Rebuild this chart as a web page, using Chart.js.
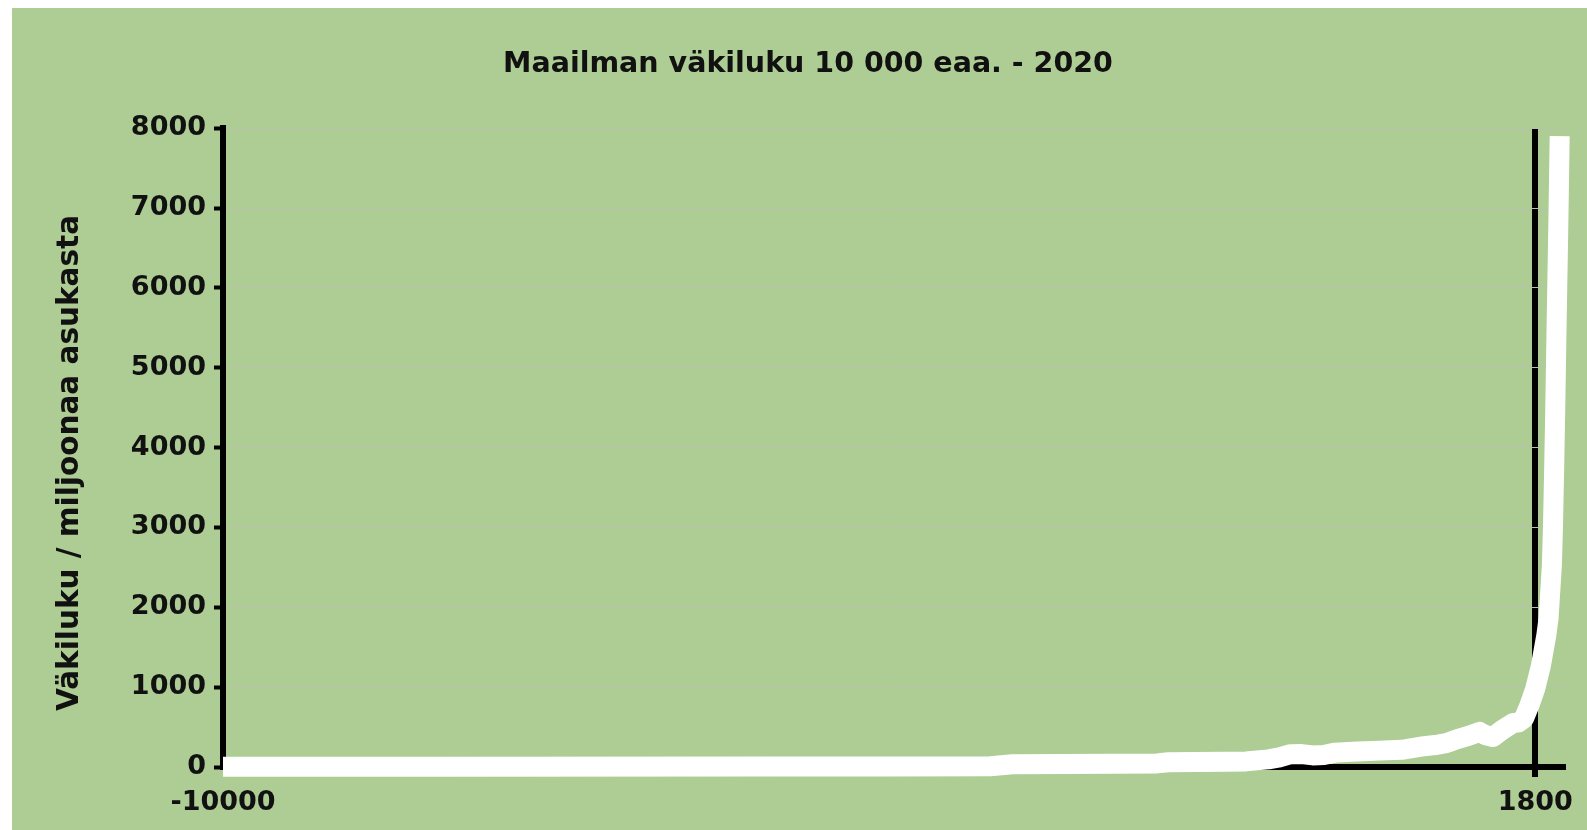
<!DOCTYPE html>
<html lang="fi">
<head>
    <meta charset="UTF-8">
    <title>Maailman väkiluku</title>
    <script src="https://cdn.jsdelivr.net/npm/chart.js"></script>
    <style>
        html, body { margin: 0; background: #fff; }
        #box { position: absolute; left: 12px; top: 8px; width: 1575px; height: 822px; background: #aecd94; }
    </style>
</head>
<body>
    <div id="box"><canvas id="myChart"></canvas></div>
    <script>
        // Vuodet ja väkiluku (miljoonaa), luettu kuvasta
        const years = [-10000, -8000, -5000, -4000, -3100, -2900, -2000, -1600, -1500, -1000, -800,
            -600, -500, -400, -300, -200, -100, 1, 200, 400, 600, 800, 900, 1000, 1100, 1200,
            1300, 1350, 1420, 1500, 1600, 1650, 1700, 1750, 1800, 1850, 1900, 1920, 1940, 1950,
            1960, 1970, 1980, 1990, 2000, 2010, 2020];
        const population = [2, 3, 5, 7, 10, 35, 40, 45, 60, 65, 70,
            95, 120, 160, 162, 145, 150, 180, 195, 205, 215, 260, 275, 300, 350, 390,
            440, 400, 375, 460, 550, 560, 610, 780, 980, 1260, 1650, 1860, 2300, 2525,
            3018, 3700, 4450, 5330, 6140, 6960, 7900];
        const xTicks = [-10000, 1800];
        const markYear = 1800;

        const font = (size) => ({ family: 'DejaVu Sans', size: size, weight: 'bold' });

        const ctx = document.getElementById('myChart').getContext('2d');
        new Chart(ctx, {
            type: 'line',
            data: {
                datasets: [{
                    data: years.map((y, i) => ({ x: y, y: population[i] })),
                    borderColor: '#ffffff',
                    borderWidth: 20,
                    borderJoinStyle: 'round',
                    pointRadius: 0,
                    tension: 0,
                    clip: 14
                }]
            },
            options: {
                responsive: true,
                maintainAspectRatio: false,
                animation: false,
                layout: { padding: { left: 41, right: 24, top: 0, bottom: 0 } },
                plugins: {
                    legend: { display: false },
                    tooltip: { enabled: false },
                    title: {
                        display: true,
                        text: 'Maailman väkiluku 10 000 eaa. - 2020',
                        color: '#111',
                        font: font(28.5),
                        padding: { top: 39, bottom: 47 }
                    }
                },
                scales: {
                    x: {
                        type: 'linear',
                        min: -10000,
                        max: 2050,
                        afterBuildTicks: s => { s.ticks = xTicks.map(v => ({ value: v })); },
                        afterFit: s => { s.height = 63; },
                        ticks: {
                            color: '#111', font: font(27), padding: 10, maxRotation: 0, autoSkip: false,
                            callback: v => String(v)
                        },
                        grid: {
                            color: c => (c.tick && c.tick.value === markYear) ? '#000' : 'transparent',
                            tickColor: c => (c.tick && c.tick.value === markYear) ? '#000' : 'transparent',
                            lineWidth: 6,
                            tickWidth: 6,
                            tickLength: 10
                        },
                        border: { color: '#000', width: 6 }
                    },
                    y: {
                        min: 0,
                        max: 8000,
                        afterFit: s => { s.width = 170; },
                        ticks: { stepSize: 1000, color: '#111', font: font(27), padding: 8, callback: v => String(v) },
                        grid: { color: '#b7c2aa', lineWidth: 1, tickColor: '#000', tickWidth: 4, tickLength: 9 },
                        border: { color: '#000', width: 6 },
                        title: {
                            display: true,
                            text: 'Väkiluku / miljoonaa asukasta   ',
                            color: '#111',
                            font: font(29.5),
                            padding: { top: 0, bottom: 0 }
                        }
                    }
                }
            }
        });
    </script>
</body>
</html>
